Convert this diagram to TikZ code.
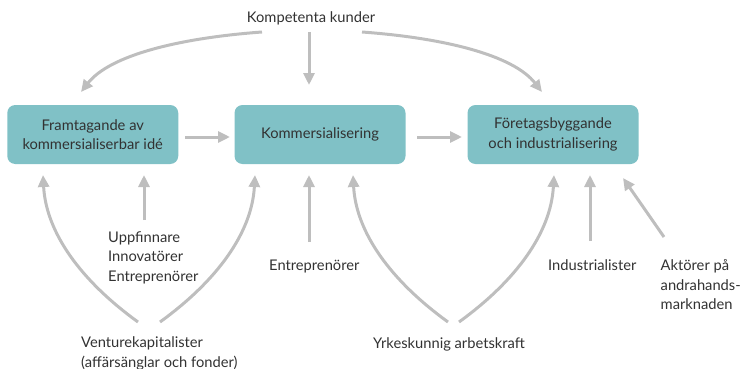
\documentclass[tikz,border=0pt]{standalone}
\usepackage{fontspec}
\setmainfont{Lato}
\usetikzlibrary{arrows.meta}
\definecolor{boxfill}{RGB}{128,193,198}
\definecolor{arrowgray}{RGB}{190,190,190}
\definecolor{txt}{RGB}{50,50,50}
\newcommand\lblfont{\fontsize{14.7}{19.5}\selectfont}
\begin{document}
\begin{tikzpicture}[x=1pt,y=-1pt,
  stage/.style={fill=boxfill, rounded corners=8pt, minimum width=171pt,
    minimum height=59pt, align=center, text=txt, font=\lblfont, inner sep=0pt},
  lbl/.style={text=txt, font=\lblfont, align=left, inner sep=0pt},
  flow/.style={draw=arrowgray, line width=3pt, -{Triangle[length=12pt,width=11pt]}},
]
\useasboundingbox (0,0) rectangle (741,369);

% the three stages
\node[stage] (idea) at (92.75,134.5) {Framtagande av\\kommersialiserbar idé};
\node[stage] (komm) at (320,134.5) {Kommersialisering};
\node[stage] (ftg)  at (553,134.5) {Företagsbyggande\\och industrialisering};

% actors
\node[lbl, anchor=base] (kund) at (311,23) {Kompetenta kunder};
\node[lbl, anchor=west] (upp)  at (108,257.8) {Uppfinnare\\Innovatörer\\Entreprenörer};
\node[lbl, anchor=base west] (entr) at (269,270) {Entreprenörer};
\node[lbl, anchor=west] (vc)   at (81,353.5) {Venturekapitalister\\(affärsänglar och fonder)};
\node[lbl, anchor=base west] (yrke) at (373,348.3) {Yrkeskunnig arbetskraft};
\node[lbl, anchor=base west] (ind)  at (548,270.5) {Industrialister};
\node[lbl, anchor=west] (akt)  at (660.5,285) {Aktörer på\\andrahands-\\marknaden};

% connector end points
\coordinate (kundL) at (262,32);
\coordinate (kundM) at (309,32);
\coordinate (kundR) at (362,32);
\coordinate (ideaTop) at (81,92);
\coordinate (kommTop) at (309,85);
\coordinate (ftgTop) at (542,92);
\coordinate (ideaOut) at (185,137);
\coordinate (kommIn) at (230,137);
\coordinate (kommOut) at (417,137);
\coordinate (ftgIn) at (462,137);
\coordinate (ideaB1) at (43,175);
\coordinate (ideaB2) at (144,175);
\coordinate (kommB1) at (255,175);
\coordinate (kommB2) at (309,175);
\coordinate (kommB3) at (353,175);
\coordinate (ftgB1) at (554,175);
\coordinate (ftgB2) at (590,175);
\coordinate (ftgB3) at (623,178);
\coordinate (uppTop) at (144,220);
\coordinate (entrTop) at (309,242);
\coordinate (indTop) at (590,241);
\coordinate (aktTop) at (664,237);
\coordinate (vcL) at (138,322);
\coordinate (vcR) at (160,322);
\coordinate (yrkeL) at (448,322);
\coordinate (yrkeR) at (459,322);

% customers
\draw[flow] (kundL) .. controls (180,38) and (110,55) .. (ideaTop);
\draw[flow] (kundM) -- (kommTop);
\draw[flow] (kundR) .. controls (444,38) and (513,55) .. (ftgTop);

% main flow
\draw[flow] (ideaOut) -- (kommIn);
\draw[flow] (kommOut) -- (ftgIn);

% inventors and entrepreneurs
\draw[flow] (uppTop) -- (ideaB2);
\draw[flow] (entrTop) -- (kommB2);
\draw[flow] (indTop) -- (ftgB2);
\draw[flow] (aktTop) -- (ftgB3);

% venture capital
\draw[flow] (vcL) .. controls (80,280) and (46,232) .. (ideaB1);
\draw[flow] (vcR) .. controls (218,280) and (252,232) .. (kommB1);

% skilled labour
\draw[flow] (yrkeL) .. controls (390,280) and (356,232) .. (kommB3);
\draw[flow] (yrkeR) .. controls (517,280) and (551,232) .. (ftgB1);
\end{tikzpicture}
\end{document}
